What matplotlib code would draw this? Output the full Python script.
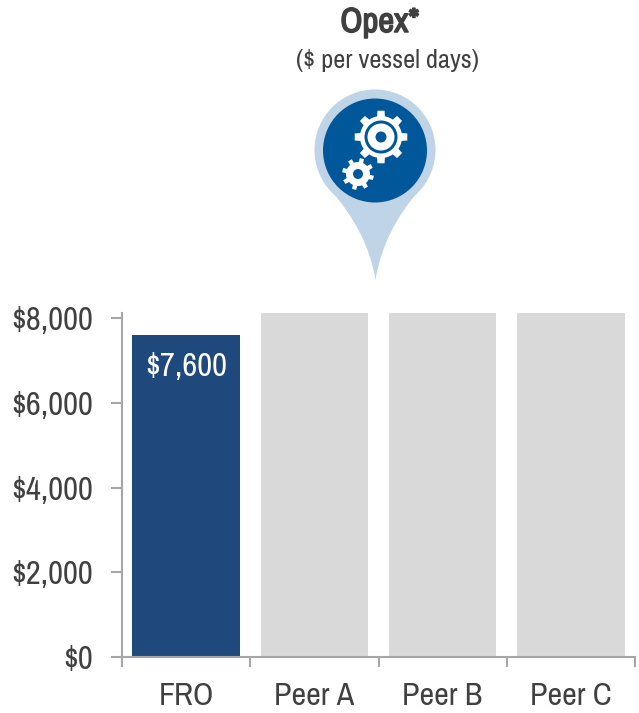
import matplotlib
matplotlib.use('Agg')
import matplotlib.pyplot as plt
import matplotlib.patheffects as pe
import numpy as np
from matplotlib import font_manager as fm
from matplotlib.patches import Circle, PathPatch, Polygon
from matplotlib.path import Path

# Peer values run past the top of the axis
categories = ['FRO', 'Peer A', 'Peer B', 'Peer C']
opex_values = [7600, 8120, 8120, 8120]
bar_colors = ['#1f497d', '#d9d9d9', '#d9d9d9', '#d9d9d9']
bar_labels = ['$7,600', '', '', '']
y_ticks = [0, 2000, 4000, 6000, 8000]
y_tick_labels = ['$0', '$2,000', '$4,000', '$6,000', '$8,000']

W, H = 639, 713
TEXT = '#404040'
AXIS = '#a6a6a6'
BLUE = '#00589b'
PIN = '#bfd4e6'

# Narrow face for all text, whichever of these is present
installed = {f.name for f in fm.fontManager.ttflist}
narrow = [n for n in ['Archivo Narrow', 'Roboto Condensed', 'PT Sans Narrow', 'Liberation Sans'] if n in installed]
plt.rcParams['font.family'] = narrow + ['DejaVu Sans']


def gear_outline(cx, cy, r_out, r_in, teeth, phase=0.0):
    # Square teeth around a circular body
    pts = []
    step = 2 * np.pi / teeth
    for k in range(teeth):
        a = phase + k * step
        for da, r in [(-0.24, r_in), (-0.17, r_out), (0.17, r_out), (0.24, r_in)]:
            t = a + da * step
            pts.append((cx + r * np.cos(t), cy + r * np.sin(t)))
        for f in np.linspace(0.3, 0.7, 5):
            t = a + f * step
            pts.append((cx + r_in * np.cos(t), cy + r_in * np.sin(t)))
    return pts


fig = plt.figure(figsize=(W / 100, H / 100), dpi=100)
ax = fig.add_axes([122 / W, (H - 657) / H, (635 - 122) / W, (657 - 313) / H])

x = np.arange(len(categories))
bars = ax.bar(x, opex_values, width=0.84, color=bar_colors)
for rect, label in zip(bars, bar_labels):
    if label:
        ax.text(rect.get_x() + rect.get_width() / 2, 6850, label, color='white',
                fontsize=23.5, ha='center', va='center')

ax.set_xlim(-0.5, 3.5)
ax.set_ylim(0, 8120)
ax.set_yticks(y_ticks)
ax.set_yticklabels(y_tick_labels, fontsize=23.5, color=TEXT)
ax.set_xticks(np.arange(-0.5, 4, 1))
ax.set_xticklabels([])
ax.set_xticks(x, minor=True)
ax.set_xticklabels(categories, minor=True, fontsize=23, color=TEXT)
ax.tick_params(axis='y', length=8, width=1.5, color=AXIS, pad=13)
ax.tick_params(axis='x', which='major', length=7.5, width=1.5, color=AXIS)
ax.tick_params(axis='x', which='minor', length=0, pad=18)
for side in ['top', 'right']:
    ax.spines[side].set_visible(False)
for side in ['left', 'bottom']:
    ax.spines[side].set_color(AXIS)
    ax.spines[side].set_linewidth(1.5)

# Header and pin icon, drawn in pixel coordinates
top = fig.add_axes([0, 0, 1, 1], facecolor='none')
top.set_xlim(0, W)
top.set_ylim(H, 0)
top.axis('off')

# The narrow face has no bold, so the title gets a thin outline instead
title = top.text(380, 22, 'Opex*', fontsize=25, color=TEXT, ha='center', va='center')
title.set_path_effects([pe.withStroke(linewidth=1.1, foreground=TEXT)])
top.text(387, 60, '($ per vessel days)', fontsize=19, color=TEXT, ha='center', va='center')

top.add_patch(Circle((375, 150), 60.5, color=PIN, lw=0))
tail = Path([(333, 193), (352, 215), (370, 245), (375.5, 280),
             (381, 245), (398, 215), (417, 193), (333, 193)],
            [Path.MOVETO, Path.CURVE4, Path.CURVE4, Path.CURVE4,
             Path.CURVE4, Path.CURVE4, Path.CURVE4, Path.CLOSEPOLY])
top.add_patch(PathPatch(tail, facecolor=PIN, lw=0))
top.add_patch(Circle((375, 150.5), 52, color=BLUE, lw=0, zorder=2))

top.add_patch(Polygon(gear_outline(381, 137, 26.5, 21, 8, 0.0), color='white', lw=0, zorder=3))
top.add_patch(Circle((381, 137), 16.5, color=BLUE, lw=0, zorder=4))
top.add_patch(Circle((381, 137), 13.5, color='white', lw=0, zorder=5))
top.add_patch(Circle((381, 137), 5.5, color=BLUE, lw=0, zorder=6))

top.add_patch(Polygon(gear_outline(358, 174, 16, 12, 8, 0.25), color='white', lw=0, zorder=3))
top.add_patch(Circle((358, 174), 5, color=BLUE, lw=0, zorder=4))

fig.savefig('out.png', dpi=100)
